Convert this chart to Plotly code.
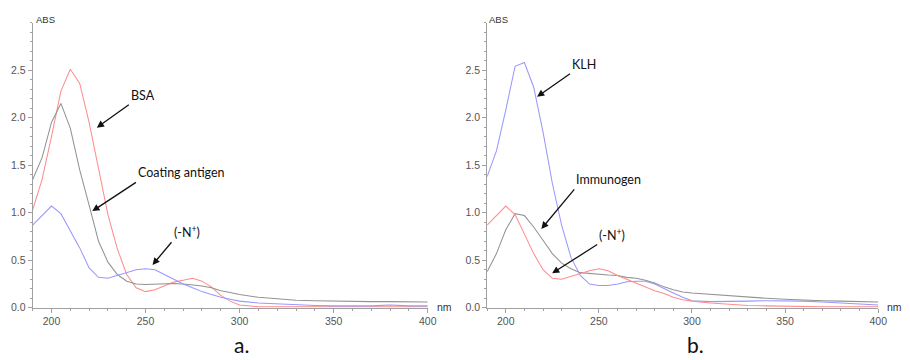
import plotly.graph_objects as go

# wavelengths (nm)
wl = [190, 195, 200, 205, 210, 215, 220, 225, 230, 235, 240, 245, 250, 255, 260,
      265, 270, 275, 280, 285, 290, 295, 300, 310, 320, 330, 340, 350, 360, 370,
      380, 390, 400]

# panel a.
bsa = [1.03, 1.35, 1.80, 2.28, 2.51, 2.36, 1.95, 1.45, 0.98, 0.62, 0.35, 0.21, 0.17, 0.19, 0.23,
       0.27, 0.29, 0.31, 0.28, 0.22, 0.13, 0.07, 0.03, 0.01, 0.01, 0.01, 0.01, 0.01, 0.01, 0.01,
       0.01, 0.01, 0.01]
coating = [1.35, 1.58, 1.95, 2.15, 1.89, 1.45, 1.08, 0.70, 0.48, 0.35, 0.28, 0.25, 0.245, 0.25, 0.25,
           0.255, 0.25, 0.24, 0.23, 0.21, 0.18, 0.16, 0.14, 0.11, 0.095, 0.08, 0.075, 0.07, 0.07, 0.065,
           0.065, 0.06, 0.06]
hapten_a = [0.87, 0.97, 1.07, 0.99, 0.81, 0.63, 0.42, 0.32, 0.31, 0.34, 0.37, 0.40, 0.41, 0.40, 0.35,
            0.30, 0.25, 0.21, 0.17, 0.14, 0.11, 0.09, 0.07, 0.05, 0.04, 0.03, 0.025, 0.02, 0.02, 0.02,
            0.03, 0.02, 0.02]

# panel b.
klh = [1.38, 1.65, 2.08, 2.54, 2.58, 2.32, 1.85, 1.31, 0.87, 0.53, 0.34, 0.25, 0.235, 0.235, 0.25,
       0.275, 0.28, 0.28, 0.25, 0.20, 0.155, 0.11, 0.075, 0.065, 0.065, 0.07, 0.075, 0.075, 0.07, 0.06,
       0.05, 0.04, 0.03]
immunogen = [0.38, 0.57, 0.82, 0.99, 0.97, 0.85, 0.71, 0.57, 0.47, 0.41, 0.37, 0.36, 0.35, 0.345, 0.34,
             0.32, 0.31, 0.29, 0.26, 0.22, 0.19, 0.165, 0.155, 0.14, 0.13, 0.11, 0.10, 0.09, 0.08, 0.075,
             0.07, 0.065, 0.06]
hapten_b = [0.87, 0.97, 1.07, 0.98, 0.78, 0.57, 0.40, 0.31, 0.30, 0.33, 0.36, 0.39, 0.41, 0.39, 0.34,
            0.30, 0.26, 0.22, 0.18, 0.15, 0.11, 0.085, 0.07, 0.05, 0.035, 0.025, 0.02, 0.015, 0.015, 0.01,
            0.01, 0.01, 0.01]

RED = "#ff8c8c"
GRAY = "#939393"
BLUE = "#9898ff"
LW = 1.05

fig = go.Figure()
fig.add_trace(go.Scatter(x=wl, y=bsa, mode="lines", line=dict(color=RED, width=LW), xaxis="x", yaxis="y"))
fig.add_trace(go.Scatter(x=wl, y=coating, mode="lines", line=dict(color=GRAY, width=LW), xaxis="x", yaxis="y"))
fig.add_trace(go.Scatter(x=wl, y=hapten_a, mode="lines", line=dict(color=BLUE, width=LW), xaxis="x", yaxis="y"))
fig.add_trace(go.Scatter(x=wl, y=klh, mode="lines", line=dict(color=BLUE, width=LW), xaxis="x2", yaxis="y2"))
fig.add_trace(go.Scatter(x=wl, y=immunogen, mode="lines", line=dict(color=GRAY, width=LW), xaxis="x2", yaxis="y2"))
fig.add_trace(go.Scatter(x=wl, y=hapten_b, mode="lines", line=dict(color=RED, width=LW), xaxis="x2", yaxis="y2"))

W, H = 910, 360
tickfont = dict(family="Liberation Sans, Arial", size=10.5, color="#555")
AXC = "#a0a0a0"

def xax(domain, anchor):
    return dict(domain=domain, anchor=anchor, range=[190, 400], tickvals=[200, 250, 300, 350, 400],
                ticks="outside", ticklen=4, tickcolor=AXC, showline=True, linecolor=AXC, linewidth=1,
                showgrid=False, zeroline=False, tickfont=tickfont,
                minor=dict(dtick=10, tick0=190, ticks="outside", ticklen=2, tickcolor=AXC, showgrid=False))

def yax(anchor):
    return dict(domain=[1 - 313 / H, 1 - 23 / H], anchor=anchor, range=[0, 3.0],
                tickvals=[0, 0.5, 1.0, 1.5, 2.0, 2.5], tickformat=".1f",
                ticks="outside", ticklen=4, tickcolor=AXC, showline=True, linecolor=AXC, linewidth=1,
                showgrid=False, zeroline=False, tickfont=tickfont,
                minor=dict(dtick=0.1, tick0=0, ticks="outside", ticklen=2, tickcolor=AXC, showgrid=False))

ann_font = dict(family="Lato, Open Sans", size=12.5, color="#111")
annotations = []

def arrow_label(text, tail, tip, xref, yref):
    # text box sits up-right of the arrow tail; arrow runs from tail to tip
    annotations.append(dict(text=text, x=tip[0], y=tip[1], xref=xref, yref=yref,
                            ax=tail[0], ay=tail[1], axref=xref, ayref=yref, showarrow=True,
                            xanchor="left", yanchor="bottom", font=ann_font,
                            arrowhead=2, arrowsize=1.1, arrowwidth=1.3, arrowcolor="#111"))

# panel a labels
arrow_label("BSA", (241.1, 2.135), (224.1, 1.895), "x", "y")
arrow_label("Coating antigen", (244.9, 1.319), (221.7, 1.017), "x", "y")
arrow_label("(-N<sup>+</sup>)", (263.8, 0.689), (253.7, 0.451), "x", "y")

# panel b labels
arrow_label("KLH", (234.5, 2.462), (216.8, 2.22), "x2", "y2")
arrow_label("Immunogen", (236.8, 1.245), (219.1, 0.83), "x2", "y2")
arrow_label("(-N<sup>+</sup>)", (249.1, 0.665), (224.9, 0.363), "x2", "y2")

small = dict(family="Liberation Sans, Arial", size=9.5, color="#333")
for px in (34, 492):
    annotations.append(dict(text="ABS", x=px / W, y=1 - 20 / H, xref="paper", yref="paper",
                            showarrow=False, xanchor="left", yanchor="middle", font=small))
for px in (439, 894):
    annotations.append(dict(text="nm", x=px / W, y=1 - 312 / H, xref="paper", yref="paper",
                            showarrow=False, xanchor="left", yanchor="middle",
                            font=dict(family="Liberation Sans, Arial", size=10.5, color="#333")))

big = dict(family="Lato, Open Sans", size=21, color="#111")
annotations.append(dict(text="a.", x=244 / W, y=1 - 350 / H, xref="paper", yref="paper",
                        showarrow=False, xanchor="center", yanchor="middle", font=big))
annotations.append(dict(text="b.", x=702 / W, y=1 - 350 / H, xref="paper", yref="paper",
                        showarrow=False, xanchor="center", yanchor="middle", font=big))

fig.update_layout(
    width=W, height=H, margin=dict(l=0, r=0, t=0, b=0),
    paper_bgcolor="white", plot_bgcolor="white", showlegend=False,
    xaxis=xax([33 / W, 432 / W], "y"), yaxis=yax("x"),
    xaxis2=xax([492 / W, 887 / W], "y2"), yaxis2=yax("x2"),
    annotations=annotations,
)

fig.write_html("out.html")
